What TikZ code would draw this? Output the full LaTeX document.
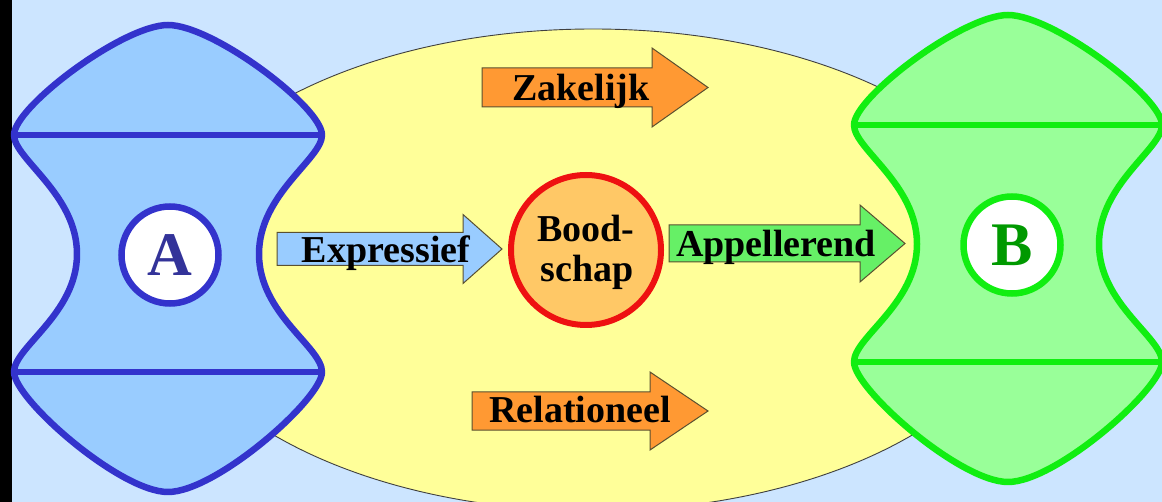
\documentclass[tikz,border=0pt]{standalone}
\usepackage{fontspec}
\setmainfont{Liberation Serif}

\definecolor{skyback}{HTML}{CCE5FF}
\definecolor{senderline}{HTML}{3333CC}
\definecolor{senderfill}{HTML}{99CCFF}
\definecolor{senderletter}{HTML}{333399}
\definecolor{receiverline}{HTML}{11EE11}
\definecolor{receiverfill}{HTML}{99FF99}
\definecolor{receiverletter}{HTML}{009900}
\definecolor{fieldyellow}{HTML}{FFFF99}
\definecolor{arroworange}{HTML}{FF9933}
\definecolor{arrowblue}{HTML}{99CCFF}
\definecolor{arrowgreen}{HTML}{66F066}
\definecolor{msgfill}{HTML}{FFC866}
\definecolor{msgred}{HTML}{EE1111}
\definecolor{arrowedge}{HTML}{5A5030}

% block arrow: fill, tail x, neck x, tip x, centre y, half shaft, half head
\newcommand{\blockarrow}[7]{%
  \filldraw[arrowedgestyle, fill=#1]
    (#2,#5-#6) -- (#3,#5-#6) -- (#3,#5-#7) -- (#4,#5)
    -- (#3,#5+#7) -- (#3,#5+#6) -- (#2,#5+#6) -- cycle;}

\tikzset{
  arrowedgestyle/.style={draw=arrowedge, line width=1pt, line join=miter},
  wordtxt/.style={inner sep=0pt, anchor=base, text=black,
    font=\fontsize{38}{40}\selectfont\bfseries},
  partnercircle/.style={circle, fill=white, line width=6.5pt,
    minimum size=97pt, inner sep=0pt, text depth=0pt, text height=41pt,
    font=\fontsize{62}{62}\selectfont\bfseries},
  party/.pic={
    \path[pic actions]
      (-154,-119) .. controls (-154,-147) and (-45,-229) .. (0,-229)
      .. controls (45,-229) and (154,-147) .. (154,-119)
      .. controls (154,-95) and (91,-60) .. (91,0)
      .. controls (91,60) and (154,93) .. (154,118)
      .. controls (154,145) and (48,238) .. (0,238)
      .. controls (-48,238) and (-154,145) .. (-154,118)
      .. controls (-154,93) and (-91,60) .. (-91,0)
      .. controls (-91,-60) and (-154,-95) .. cycle;
    \path[pic actions, fill=none] (-154,-119) -- (154,-119) (-154,118) -- (154,118);
  }
}

\begin{document}
\begin{tikzpicture}[x=1pt,y=-1pt]
  % canvas and dark left edge
  \fill[skyback] (0,0) rectangle (1162,502);
  \fill[black] (0,0) rectangle (12,502);
  \useasboundingbox (0,0) rectangle (1162,502);

  % communication field
  \filldraw[fill=fieldyellow, draw=black!75, line width=0.9pt]
    (593,270) ellipse [x radius=438, y radius=241];

  % the four aspects of the message
  \blockarrow{arroworange}{482}{652}{708}{87.5}{19.5}{39.5}
  \node[wordtxt] (zakelijk) at (581,101) {Zakelijk};

  \blockarrow{arroworange}{472}{650}{708}{411}{19}{39}
  \node[wordtxt] (relationeel) at (580,423) {Relationeel};

  \blockarrow{arrowblue}{277}{463}{502}{249}{16.5}{34.5}
  \node[wordtxt] (expressief) at (386,263) {Expressief};

  \blockarrow{arrowgreen}{669}{860}{905}{243.5}{18.5}{38.5}
  \node[wordtxt] (appellerend) at (776,257) {Appellerend};

  % the message itself
  \node[circle, draw=msgred, fill=msgfill, line width=6pt, minimum size=150pt,
        inner sep=0pt] (msg) at (586,250) {};
  \node[wordtxt] (msgtop) at (586,242) {Bood-};
  \node[wordtxt] (msgbottom) at (587,282) {schap};

  % sender and receiver
  \pic[draw=senderline, fill=senderfill, line width=6.5pt, line join=round] at (168,254) {party};
  \pic[draw=receiverline, fill=receiverfill, line width=6.5pt, line join=round] at (1008,244) {party};

  \node[partnercircle, draw=senderline, text=senderletter] (sender) at (170,255) {A};
  \node[partnercircle, draw=receiverline, text=receiverletter] (receiver) at (1012,245) {B};
\end{tikzpicture}
\end{document}
